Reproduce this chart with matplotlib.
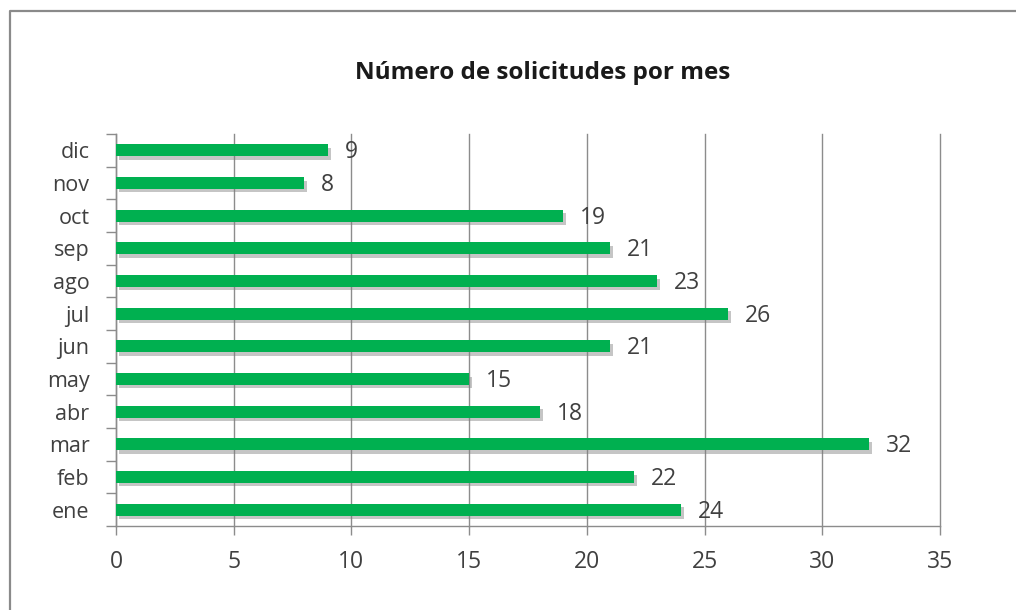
#!/usr/bin/env python3
"""Horizontal bar chart: number of requests per month."""

import matplotlib
matplotlib.use("Agg")
import matplotlib.pyplot as plt
import matplotlib.patheffects as pe
from matplotlib.lines import Line2D

months = ["ene", "feb", "mar", "abr", "may", "jun", "jul", "ago", "sep", "oct", "nov", "dic"]
solicitudes = [24, 22, 32, 18, 15, 21, 26, 23, 21, 19, 8, 9]
x_ticks = [0, 5, 10, 15, 20, 25, 30, 35]
title = "Número de solicitudes por mes"

plt.rcParams["font.family"] = ["Open Sans", "DejaVu Sans"]

GREEN = "#00b050"
GRID = "#8c8c8c"
TEXT = "#404040"

fig = plt.figure(figsize=(10.16, 6.10), dpi=100)
ax = fig.add_axes([116 / 1016, 1 - 526 / 610, (940 - 116) / 1016, (526 - 134) / 610])

# outer chart frame: only the left and top edges are inside the picture
fx, fy = 9.5 / 1016, 1 - 10.5 / 610
fig.add_artist(Line2D([fx, fx, 1.0], [0.0, fy, fy], transform=fig.transFigure,
                      color="#8a8a8a", linewidth=1.6, zorder=0))

ypos = list(range(len(months)))
bars = ax.barh(ypos, solicitudes, height=0.36, color=GREEN, zorder=3)
for b in bars:
    b.set_path_effects([pe.SimplePatchShadow(offset=(2, -2.5), shadow_rgbFace="#7f7f7f", alpha=0.45),
                        pe.Normal()])

for y, v in zip(ypos, solicitudes):
    ax.annotate(str(v), (v, y), xytext=(12, -1.5), textcoords="offset points",
                va="center", ha="left", fontsize=16.5, color=TEXT)

ax.set_xlim(0, 35)
ax.set_ylim(-0.5, len(months) - 0.5)
ax.set_xticks(x_ticks)
ax.set_xticklabels([str(t) for t in x_ticks])
ax.set_yticks(ypos)
ax.set_yticklabels(months)
ax.set_yticks([i - 0.5 for i in range(len(months) + 1)], minor=True)

ax.tick_params(axis="y", which="major", length=0, pad=19, labelsize=15.5, labelcolor=TEXT)
ax.tick_params(axis="y", which="minor", length=7, width=1, color=GRID, direction="out")
ax.tick_params(axis="x", length=6.5, width=1, color=GRID, pad=11, labelsize=16.5, labelcolor=TEXT)

ax.grid(axis="x", color=GRID, linewidth=1, zorder=0)
for gl in ax.get_xgridlines():
    gl.set_clip_on(False)
ax.set_axisbelow(True)
for side in ("top", "right"):
    ax.spines[side].set_visible(False)
for side in ("left", "bottom"):
    ax.spines[side].set_color(GRID)
    ax.spines[side].set_linewidth(1)

fig.text(543 / 1016, 1 - 73 / 610, title, ha="center", va="center",
         fontsize=17.5, fontweight="bold", color="#1a1a1a")

fig.savefig("out.png", dpi=100)
